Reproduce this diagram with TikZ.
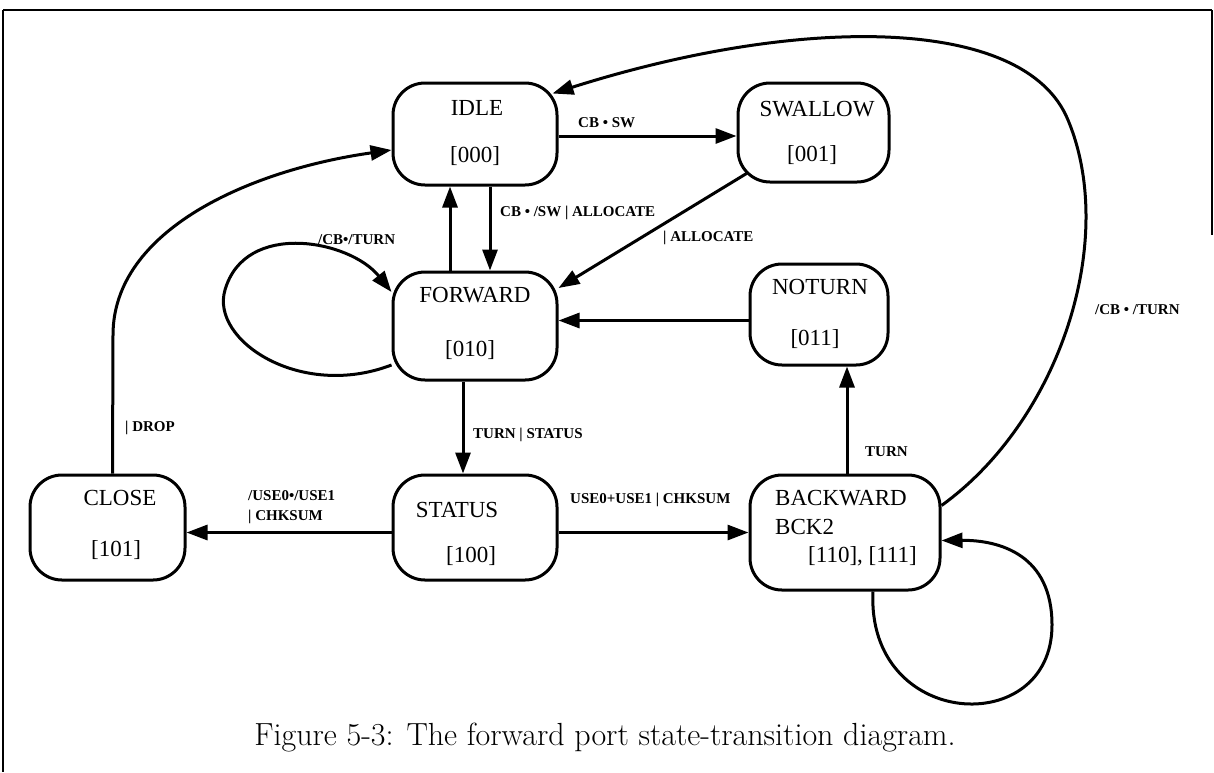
\documentclass[tikz,border=0pt]{standalone}
\usepackage{fontspec}
\newfontfamily\tfont{Liberation Serif}
\usetikzlibrary{arrows.meta}
\tikzset{
  statebox/.style={draw, line width=3pt, rounded corners=32pt, inner sep=0pt},
  stxt/.style={font=\fontsize{23}{27}\selectfont\tfont, inner sep=0pt},
  lab/.style={font=\fontsize{15}{17}\selectfont\tfont\bfseries, inner sep=0pt, anchor=west},
  conn/.style={line width=3pt, -{Triangle[length=21pt,width=15pt]}},
}
\begin{document}
\begin{tikzpicture}[x=1pt,y=-1pt]
\useasboundingbox (0,0) rectangle (1214,772);
% frame
\draw[line width=2.6pt] (3,10) -- (1212,10);
\draw[line width=1.4pt] (3,10) -- (3,772);
\draw[line width=1.4pt] (1212,10) -- (1212,235);

% state boxes
\node[statebox, minimum width=164pt, minimum height=102pt] (idle) at (475,134) {};
\node[statebox, minimum width=151pt, minimum height=99pt] (swallow) at (813.5,132.5) {};
\node[statebox, minimum width=164pt, minimum height=108pt] (forward) at (475,326) {};
\node[statebox, minimum width=138pt, minimum height=101pt] (noturn) at (819,314.5) {};
\node[statebox, minimum width=155pt, minimum height=105pt] (close) at (107.5,527.5) {};
\node[statebox, minimum width=164pt, minimum height=105pt] (status) at (475,527.5) {};
\node[statebox, minimum width=190pt, minimum height=115pt] (backward) at (845,532.5) {};

% state texts
\node[stxt] (idle-t) at (477,108) {IDLE};
\node[stxt] (idle-c) at (475,156) {[000]};
\node[stxt] (swallow-t) at (817,109) {SWALLOW};
\node[stxt] (swallow-c) at (812,155) {[001]};
\node[stxt] (forward-t) at (475,295) {FORWARD};
\node[stxt] (forward-c) at (470,350) {[010]};
\node[stxt] (noturn-t) at (820,287) {NOTURN};
\node[stxt] (noturn-c) at (815,339) {[011]};
\node[stxt] (close-t) at (120,498) {CLOSE};
\node[stxt] (close-c) at (116,550) {[101]};
\node[stxt] (status-t) at (457,510) {STATUS};
\node[stxt] (status-c) at (471,556) {[100]};
\node[stxt, anchor=west] (backward-t) at (775,498) {BACKWARD};
\node[stxt, anchor=west] (backward-b) at (775,527) {BCK2};
\node[stxt, anchor=west] (backward-c) at (808,556) {[110], [111]};

% connectors
\draw[conn] ([yshift=-2pt]idle.east) -- ([yshift=-2pt]idle.east -| swallow.west);
\draw[conn] ([xshift=15pt]idle.south) -- ([xshift=15pt]forward.north);
\draw[conn] ([xshift=-25pt]forward.north) -- ([xshift=-25pt]idle.south);
\draw[conn] ([shift={(10pt,10pt)}]swallow.south west) -- ([yshift=38pt]forward.east);
\draw[conn] ([yshift=-39pt]forward.west) .. controls (300,400) and (210,340) .. (225,290)
   .. controls (245,220) and (350,240) .. ([yshift=34pt]forward.west);
\draw[conn] ([yshift=-6pt]noturn.west) -- ([yshift=-6pt]noturn.west -| forward.east);
\draw[conn] ([xshift=-12pt]forward.south) -- ([xshift=-12pt]status.north);
\draw[conn] ([yshift=-5pt]status.west) -- ([yshift=-5pt]status.west -| close.east);
\draw[conn] ([yshift=-5pt]status.east) -- ([yshift=-5pt]status.east -| backward.west);
\draw[conn] ([xshift=2pt]backward.north) -- ([xshift=2pt]backward.north |- noturn.south);
\coordinate (cbend) at (113,335);
\draw[conn] ([xshift=5pt]close.north) -- (cbend) .. controls (113,230) and (250,170) .. ([yshift=-16pt]idle.west);
\coordinate (bk1) at (1068,120);
\draw[conn] ([yshift=27pt]backward.east) .. controls (1060,420) and (1118,240) .. (bk1)
   .. controls (1025,15) and (800,15) .. ([shift={(-6pt,-12pt)}]idle.north east);
\coordinate (bk2) at (1052,625);
\draw[conn] ([xshift=28pt]backward.south) .. controls (866,730) and (1052,740) .. (bk2)
   .. controls (1052,555) and (1000,540) .. ([yshift=-8pt]backward.east);

% labels
\node[lab] (l1) at (578,123) {CB • SW};
\node[lab] (l2) at (500,213) {CB • /SW | ALLOCATE};
\node[lab] (l3) at (663,238) {| ALLOCATE};
\node[lab] (l4) at (318,240) {/CB•/TURN};
\node[lab] (l5) at (125,428) {| DROP};
\node[lab] (l6) at (473,435) {TURN | STATUS};
\node[lab, anchor=north west, align=left, font=\fontsize{15}{20}\selectfont\tfont\bfseries] (l7) at (248,490) {/USE0•/USE1\\| CHKSUM};
\node[lab] (l8) at (570,500) {USE0+USE1 | CHKSUM};
\node[lab] (l9) at (865,452) {TURN};
\node[lab] (l10) at (1095,310) {/CB • /TURN};

% caption
\node[font=\fontsize{32}{36}\selectfont, inner sep=0pt] (cap) at (605,738) {Figure 5-3: The forward port state-transition diagram.};
\end{tikzpicture}
\end{document}
